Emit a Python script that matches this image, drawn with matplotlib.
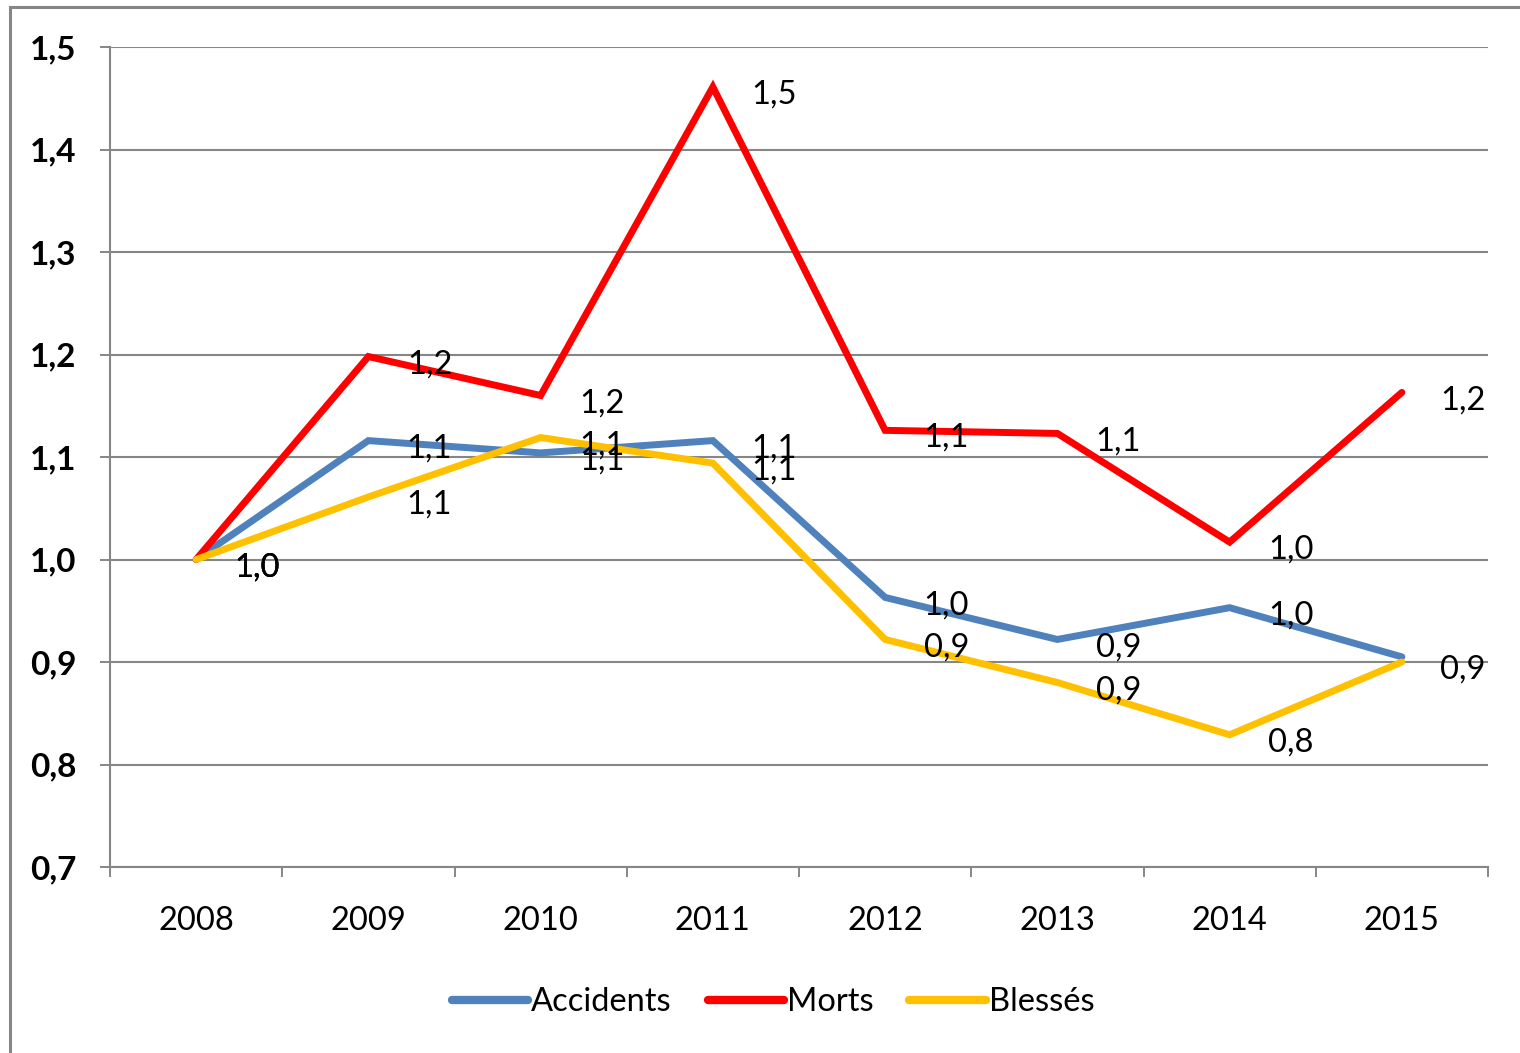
import matplotlib.pyplot as plt
from matplotlib.lines import Line2D
import numpy as np

plt.rcParams['font.family'] = ['Lato', 'DejaVu Sans']

years = ['2008', '2009', '2010', '2011', '2012', '2013', '2014', '2015']
accidents = [1.000, 1.116, 1.104, 1.116, 0.963, 0.922, 0.953, 0.905]
morts = [1.000, 1.198, 1.160, 1.461, 1.126, 1.123, 1.017, 1.163]
blesses = [1.000, 1.061, 1.119, 1.094, 0.922, 0.880, 0.829, 0.900]

series = [('Accidents', accidents, '#4F81BD'),
          ('Morts', morts, '#FF0000'),
          ('Blessés', blesses, '#FFC000')]

grey = '#868686'
fs = 23.5

fig = plt.figure(figsize=(15.2, 10.53), dpi=100)
ax = fig.add_axes([110/1520, 1-867/1053, 1378/1520, 820/1053])

x = np.arange(len(years))
for name, vals, col in series:
    ax.plot(x, vals, color=col, lw=5, label=name, solid_joinstyle='miter',
            solid_capstyle='round', zorder=3)

# data labels, to the right of each point
shown = set()
for name, vals, col in series[::-1]:
    for xi, v in zip(x, vals):
        txt = f"{v:.1f}".replace('.', ',')
        # the 2015 accidents/blessés labels sit on top of each other -> draw once
        if (xi, txt) in shown and xi == len(years) - 1:
            continue
        shown.add((xi, txt))
        ax.annotate(txt, (xi, v), xytext=(44, -5.5),
                    textcoords='offset points', ha='center', va='center',
                    fontsize=fs, color='black', zorder=5)

ax.set_xlim(-0.5, 7.5)
ax.set_ylim(0.7, 1.5)
yt = np.arange(0.7, 1.51, 0.1)
ax.set_yticks(yt)
ax.set_yticklabels([f"{t:.1f}".replace('.', ',') for t in yt], fontweight='bold', fontsize=24)
ax.set_xticks(x)
ax.set_xticklabels(years, fontsize=fs)
ax.set_xticks(np.arange(-0.5, 8, 1), minor=True)
ax.tick_params(axis='x', which='major', length=0, pad=28)
ax.tick_params(axis='x', which='minor', length=7, width=1.4, color=grey)
ax.tick_params(axis='y', length=7, width=1.4, color=grey, pad=17)

ax.grid(axis='y', color=grey, lw=1.5, zorder=1)
for s in ['top', 'right']:
    ax.spines[s].set_visible(False)
for s in ['left', 'bottom']:
    ax.spines[s].set_color(grey)
    ax.spines[s].set_linewidth(1.5)

leg = fig.legend(loc='center', bbox_to_anchor=(773/1520, 1-1002/1053), ncol=3,
                 frameon=False, fontsize=fs, handlelength=2.35, handletextpad=0.08,
                 columnspacing=1.1)
for h in leg.legend_handles:
    h.set_linewidth(6)
    h.set_solid_capstyle('round')

# chart area border (left and top only visible)
fig.add_artist(Line2D([10/1520, 10/1520], [0, 1-7/1053], color=grey, lw=2.2))
fig.add_artist(Line2D([10/1520, 1], [1-7/1053, 1-7/1053], color=grey, lw=2.2))

fig.savefig('out.png', dpi=100)
